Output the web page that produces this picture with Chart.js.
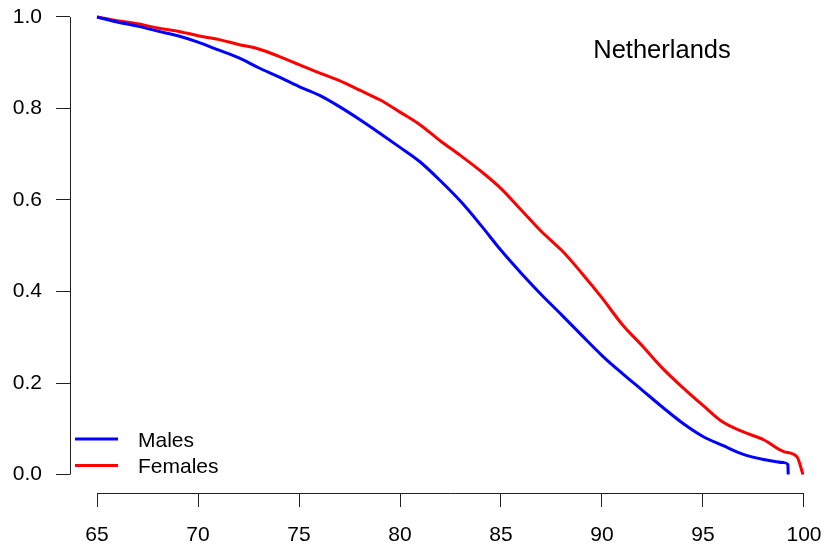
<!DOCTYPE html>
<html>
<head>
<meta charset="utf-8">
<script src="https://cdn.jsdelivr.net/npm/chart.js@4.4.0/dist/chart.umd.min.js"></script>
<style>
  html, body { margin: 0; padding: 0; background: #fff; }
  #wrap { width: 825px; height: 545px; position: relative; }
</style>
</head>
<body>
<div id="wrap"><canvas id="c" width="825" height="545"></canvas></div>
<script>
const ages = [65,66,67,68,69,70,71,72,73,74,75,76,77,78,79,80,81,82,83,84,85,86,87,88,89,90,91,92,93,94,95,96,97,98,99];
const males = [1.000,0.989,0.980,0.969,0.959,0.945,0.928,0.911,0.889,0.869,0.848,0.829,0.804,0.776,0.746,0.715,0.683,0.642,0.597,0.545,0.490,0.440,0.393,0.349,0.304,0.260,0.221,0.184,0.147,0.112,0.083,0.063,0.044,0.033,0.026];
const malesTailAges = [99.2, 99.22];
const malesTail = [0.022, 0.0];
const females = [1.000,0.992,0.985,0.976,0.969,0.959,0.951,0.940,0.930,0.914,0.896,0.878,0.861,0.840,0.819,0.792,0.764,0.729,0.697,0.663,0.625,0.578,0.531,0.490,0.440,0.386,0.328,0.281,0.232,0.190,0.151,0.114,0.093,0.076,0.050];
const femalesTailAges = [99.65, 99.95];
const femalesTail = [0.039, 0.0];
const xTicks = [65,70,75,80,85,90,95,100];
const yTicks = [0,0.2,0.4,0.6,0.8,1.0];
const seriesNames = ["Males","Females"];
const titleText = "Netherlands";

function pts(xs, ys, tx, ty) {
  const out = xs.map((a, i) => ({x: a, y: ys[i]}));
  tx.forEach((a, i) => out.push({x: a, y: ty[i]}));
  return out;
}

const FONT = "'Liberation Sans', Arial, Helvetica, sans-serif";
const AXIS_COLOR = '#222';

const rAxes = {
  id: 'rAxes',
  afterDraw(chart) {
    const ctx = chart.ctx, x = chart.scales.x, y = chart.scales.y, a = chart.chartArea;
    ctx.save();
    ctx.strokeStyle = AXIS_COLOR;
    ctx.lineWidth = 1;
    ctx.beginPath();
    const lx = Math.round(a.left) + 0.5;
    ctx.moveTo(lx, y.getPixelForValue(yTicks[yTicks.length-1]));
    ctx.lineTo(lx, y.getPixelForValue(yTicks[0]));
    const by = Math.round(a.bottom) + 0.5;
    ctx.moveTo(x.getPixelForValue(xTicks[0]), by);
    ctx.lineTo(x.getPixelForValue(xTicks[xTicks.length-1]), by);
    ctx.stroke();

    // title inside the plot
    ctx.fillStyle = '#000';
    ctx.font = '25.5px ' + FONT;
    ctx.textAlign = 'center';
    ctx.textBaseline = 'alphabetic';
    ctx.fillText(titleText, a.left + 592, 58);

    // legend bottom-left
    ctx.font = '21px ' + FONT;
    ctx.textAlign = 'left';
    const rows = [439, 465.5];
    chart.data.datasets.forEach((ds, i) => {
      ctx.strokeStyle = ds.borderColor;
      ctx.lineWidth = 3;
      ctx.beginPath();
      ctx.moveTo(a.left + 5, rows[i]);
      ctx.lineTo(a.left + 48, rows[i]);
      ctx.stroke();
      ctx.fillStyle = '#000';
      ctx.fillText(ds.label, a.left + 68, rows[i] + 7.5);
    });
    ctx.restore();
  }
};

function zeroPad(s) { s.paddingLeft = 0; s.paddingRight = 0; s.paddingTop = 0; s.paddingBottom = 0; }

new Chart(document.getElementById('c'), {
  type: 'scatter',
  data: {
    datasets: [
      { label: seriesNames[0], data: pts(ages, males, malesTailAges, malesTail), borderColor: '#0000FF', backgroundColor: '#0000FF', showLine: true, borderWidth: 3, pointRadius: 0, cubicInterpolationMode: 'monotone' },
      { label: seriesNames[1], data: pts(ages, females, femalesTailAges, femalesTail), borderColor: '#FF0000', backgroundColor: '#FF0000', showLine: true, borderWidth: 3, pointRadius: 0, cubicInterpolationMode: 'monotone' }
    ]
  },
  options: {
    responsive: false,
    animation: false,
    devicePixelRatio: 1,
    layout: { padding: 0 },
    plugins: { legend: { display: false }, tooltip: { enabled: false }, title: { display: false } },
    scales: {
      x: {
        type: 'linear',
        min: 63.663,
        max: 101.04,
        afterBuildTicks(s) { s.ticks = xTicks.map(v => ({value: v})); },
        afterFit(s) { s.height = 52; zeroPad(s); },
        border: { display: false },
        grid: { drawOnChartArea: false, drawTicks: true, tickLength: 14, color: AXIS_COLOR, lineWidth: 1 },
        ticks: { color: '#000', font: { family: FONT, size: 21 }, padding: 16, maxRotation: 0, autoSkip: false, callback: v => String(v) }
      },
      y: {
        type: 'linear',
        min: -0.0404,
        max: 1.0371,
        afterBuildTicks(s) { s.ticks = yTicks.map(v => ({value: v})); },
        afterFit(s) { s.width = 70; zeroPad(s); },
        border: { display: false },
        grid: { drawOnChartArea: false, drawTicks: true, tickLength: 14, color: AXIS_COLOR, lineWidth: 1 },
        ticks: { color: '#000', font: { family: FONT, size: 21 }, padding: 14, autoSkip: false, callback: v => Number(v).toFixed(1) }
      }
    }
  },
  plugins: [rAxes]
});
</script>
</body>
</html>
